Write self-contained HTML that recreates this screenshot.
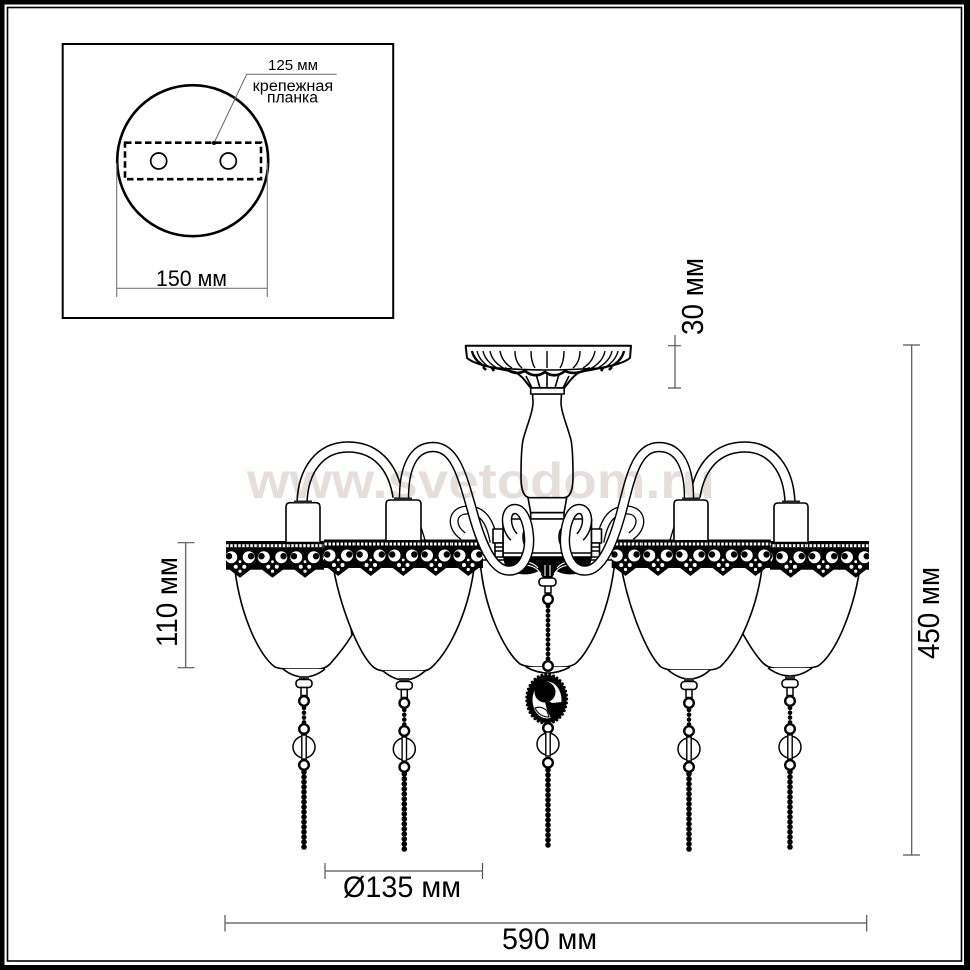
<!DOCTYPE html>
<html><head><meta charset="utf-8"><style>
html,body{margin:0;padding:0;background:#fff}
svg{display:block}
text{font-family:"Liberation Sans","Noto Sans CJK SC",sans-serif;fill:#000}
</style></head><body>
<svg width="970" height="970" viewBox="0 0 970 970" xmlns="http://www.w3.org/2000/svg">
<defs>
<g id="cell">
  <rect x="-0.3" width="33.1" height="28" fill="#000"/>
  <path d="M2,25 L16.25,36 L30.5,25Z" fill="#000"/>
  <rect y="2.5" width="32.5" height="3" fill="#fff"/>
  <g fill="#000"><rect x="1" y="2.5" width="1.5" height="3"/><rect x="5" y="2.5" width="1.5" height="3"/><rect x="9" y="2.5" width="1.5" height="3"/><rect x="13" y="2.5" width="1.5" height="3"/><rect x="17" y="2.5" width="1.5" height="3"/><rect x="21" y="2.5" width="1.5" height="3"/><rect x="25" y="2.5" width="1.5" height="3"/><rect x="29" y="2.5" width="1.5" height="3"/></g>
  <circle cx="7.5" cy="15.5" r="6" fill="#fff"/><circle cx="5.2" cy="14.5" r="3.2" fill="#000"/>
  <circle cx="25" cy="15.5" r="6" fill="#fff"/><circle cx="27.3" cy="14.5" r="3.2" fill="#000"/>
  <g fill="#fff"><circle cx="16.25" cy="20" r="1.4"/><circle cx="12" cy="25" r="2"/><circle cx="20.5" cy="25" r="2"/><circle cx="16.25" cy="29.5" r="1.6"/></g>
</g>
<clipPath id="b1"><rect x="226" y="541" width="98" height="38"/></clipPath>
<clipPath id="b2"><rect x="324" y="539" width="159" height="38"/></clipPath>
<clipPath id="b3"><rect x="611.7" y="539" width="159" height="38"/></clipPath>
<clipPath id="b4"><rect x="770" y="541" width="99" height="38"/></clipPath>
<g id="pend" fill="#fff" stroke="#000">
  <rect x="-5" y="-1" width="10" height="3.5" fill="#333" stroke="none"/>
  <rect x="-8" y="2.5" width="16" height="8" rx="3.5" stroke-width="1.6"/>
  <rect x="-3" y="10.5" width="6" height="8" stroke-width="1.5"/>
  <circle cx="0" cy="24" r="4.8" stroke-width="2.4"/>
  <line x1="0" y1="31" x2="0" y2="46" stroke-width="4.6" stroke-dasharray="0 4.8" stroke-linecap="round"/>
  <circle cx="0" cy="52" r="4.8" stroke-width="2.4"/>
  <circle cx="0" cy="70" r="11" stroke-width="1.5"/>
  <rect x="-2.2" y="58" width="4.4" height="24" stroke-width="1.4"/>
  <circle cx="0" cy="88" r="4.8" stroke-width="2.4"/>
  <line x1="0" y1="95" x2="0" y2="173.5" stroke-width="5.6" stroke-dasharray="0 5" stroke-linecap="round"/>
</g>
</defs>
<rect width="970" height="970" fill="#000"/>
<rect x="4.5" y="4.5" width="959.5" height="960.5" fill="#fff"/>
<rect x="7.5" y="7.5" width="954" height="953.5" fill="#fff" stroke="#000" stroke-width="1.6"/>

<!-- inset -->
<rect x="62.7" y="44" width="330.5" height="274" fill="none" stroke="#000" stroke-width="2"/>
<circle cx="192.7" cy="160.7" r="75.5" fill="none" stroke="#000" stroke-width="2.6"/>
<rect x="125" y="142.7" width="136" height="36.5" fill="none" stroke="#000" stroke-width="2.6" stroke-dasharray="6.5 3.5"/>
<circle cx="158.7" cy="161" r="8" fill="none" stroke="#000" stroke-width="1.7"/>
<circle cx="228.3" cy="161" r="8" fill="none" stroke="#000" stroke-width="1.7"/>
<path d="M214,143 L246.7,74.3 H336.7" fill="none" stroke="#666" stroke-width="1"/>
<circle cx="214" cy="143" r="2" fill="#000"/>
<text x="268" y="70" font-size="14.5" textLength="50" lengthAdjust="spacingAndGlyphs">125 мм</text>
<text x="252.7" y="91" font-size="15.5" textLength="80.5" lengthAdjust="spacingAndGlyphs">крепежная</text>
<text x="267" y="102.7" font-size="15.5" textLength="51" lengthAdjust="spacingAndGlyphs">планка</text>
<text x="156" y="286" font-size="22" textLength="71" lengthAdjust="spacingAndGlyphs">150 мм</text>
<path d="M116.7,163 V297 M267.3,163 V297 M116.7,288.3 H267.3" fill="none" stroke="#777" stroke-width="1.1"/>

<!-- dimensions -->
<g fill="none" stroke="#555" stroke-width="1.2">
  <path d="M675,335 V388 M668,345.7 H681 M668,388 H681"/>
  <path d="M911.7,345 V855 M903,345 H920 M903,855 H920"/>
  <path d="M185.7,542.7 V667.7 M177.5,542.7 H194.5 M177.5,667.7 H194.5"/>
  <path d="M325,871 H482.5 M325,863 V879 M482.5,863 V879"/>
  <path d="M225,923 H866.7 M225,915 V931.5 M866.7,915 V931.5"/>
</g>
<text transform="translate(703,335) rotate(-90)" font-size="31" textLength="77" lengthAdjust="spacingAndGlyphs">30 мм</text>
<text transform="translate(939,659) rotate(-90)" font-size="31" textLength="92" lengthAdjust="spacingAndGlyphs">450 мм</text>
<text transform="translate(177,647) rotate(-90)" font-size="30" textLength="90" lengthAdjust="spacingAndGlyphs">110 мм</text>
<text x="343" y="897" font-size="30" textLength="118" lengthAdjust="spacingAndGlyphs">Ø135 мм</text>
<text x="502" y="949" font-size="30" textLength="95" lengthAdjust="spacingAndGlyphs">590 мм</text>

<!-- shades -->
<g fill="#fff" stroke="#000" stroke-width="1.6" stroke-linejoin="round">
  <path d="M234,560 C238,610 258,655 275,667 Q280,669 288,669 H318 Q325,669 330,664 C338,655 346,645 352,635 L340,560Z"/>
  <path d="M283,669 Q293,677 304,677 Q315,677 325,669" />
  <path d="M861,560 C855,610 835,655 818,666 Q813,668 805,668 H775 Q768,668 763,663 C755,655 748,643 741.7,631.7 L760,560Z"/>
  <path d="M768,668 Q779,676 790,676 Q801,676 812,668"/>
  <path d="M480,560 C484,610 505,652 520,664 Q526,667 534,667 H562 Q570,667 575,664 C590,652 610,610 615,560Z"/>
  <path d="M526,667 Q537,673 548,673 Q559,673 570,667"/>
  <path d="M332,560 C340,610 360,655 373.3,667 Q378,671 386,671 H422 Q428,671 432,667 C450,650 470,610 475,560Z"/>
  <path d="M383,671 Q394,680 404,680 Q415,680 425,671"/>
  <path d="M620,560 C628,610 648,655 661,667 Q666,670 674,670 H708 Q715,670 720,667 C738,650 758,610 763,560Z"/>
  <path d="M668,670 Q679,679 689,679 Q700,679 710,670"/>
</g>

<!-- pendants -->
<use href="#pend" x="304" y="677"/>
<use href="#pend" x="404.3" y="679"/>
<use href="#pend" x="689" y="679"/>
<use href="#pend" x="790" y="677"/>
<g fill="#fff" stroke="#000">
  <rect x="545" y="585" width="6" height="8" stroke-width="1.5"/>
  <circle cx="548" cy="599.3" r="4.8" stroke-width="2.4"/>
  <line x1="548" y1="606" x2="548" y2="660" stroke-width="4.8" stroke-dasharray="0 4.8" stroke-linecap="round"/>
  <circle cx="548" cy="666" r="4.8" stroke-width="2.4"/>
  <circle cx="548" cy="728" r="4.8" stroke-width="2.4"/>
  <circle cx="548" cy="744" r="11" stroke-width="1.5"/>
  <rect x="545.8" y="732" width="4.4" height="24" stroke-width="1.4"/>
  <circle cx="548" cy="762.7" r="4.8" stroke-width="2.4"/>
  <line x1="548" y1="770" x2="548" y2="848" stroke-width="5.6" stroke-dasharray="0 5" stroke-linecap="round"/>
</g>
<!-- medallion -->
<ellipse cx="546.7" cy="699" rx="20" ry="24" fill="#000"/>
<ellipse cx="546.7" cy="699" rx="20" ry="24.5" fill="none" stroke="#000" stroke-width="3" stroke-dasharray="0 4" stroke-linecap="round"/>
<ellipse cx="547" cy="700" rx="14.5" ry="18.5" fill="#fff"/>
<circle cx="545" cy="692" r="10.5" fill="#000"/>
<path d="M544,698 L552,703 L562,702 C563,710 558,716 551,718.5 L547,710Z" fill="#000"/>
<path d="M535,708 C540,706 544,708 547,711 L549,717 C543,717 538,714 535,708Z" fill="#fff" stroke="#000" stroke-width="1"/>

<!-- back curls -->
<g fill="none" stroke-linecap="butt">
  <path d="M463,536 C450,527 451,510 468,510 C482,510 490,520 494,542" stroke="#000" stroke-width="9"/>
  <path d="M463,536 C450,527 451,510 468,510 C482,510 490,520 494,542" stroke="#fff" stroke-width="6.4"/>
  <path d="M631,536 C644,527 643,510 626,510 C612,510 604,520 600,542" stroke="#000" stroke-width="9"/>
  <path d="M631,536 C644,527 643,510 626,510 C612,510 604,520 600,542" stroke="#fff" stroke-width="6.4"/>
</g>

<!-- body -->
<g fill="#fff" stroke="#000" stroke-width="1.6" stroke-linejoin="round">
  <path d="M528,497.7 L530.7,512.7 H564 L566.7,497.7Z"/>
  <path d="M530.7,512.7 V519 H564 V512.7Z"/>
  <rect x="503" y="519" width="88.5" height="38"/>
  <rect x="493" y="529" width="10" height="14"/><rect x="591.5" y="529" width="10" height="14"/>
  <path d="M495,543 h8 v14 h-8Z"/><path d="M591.5,543 h8 v14 h-8Z"/>
  <path d="M495,547 h8 M495,551 h8 M591.5,547 h8 M591.5,551 h8"/>
  <ellipse cx="528" cy="537" rx="5" ry="10"/><ellipse cx="564" cy="537" rx="5" ry="10"/>
  <path d="M503,553 H591.5"/>
  <path d="M532.5,394 L533,402 C533,412 527,425 523,440 C521,450 521,465 521,477 C521,490 524,497.7 530,497.7 H564 C570,497.7 573,490 573,477 C573,465 573,450 571,440 C567,425 561,412 561,402 L561.5,394Z"/>
  <!-- plate -->
  <path d="M465.7,345.7 H631 L630,358 C622,365 600,368 580,372 C572,376 568,384 564,388 H531 C527,384 523,376 515,372 C495,368 475,365 467,358Z" stroke-width="2"/>
  <rect x="530.7" y="388" width="33.5" height="6" stroke-width="1.6"/>
  <path d="M490,367.5 C510,369 530,370 547,370 C565,370 585,369 606,367.5" fill="none"/>
</g>
<g fill="none" stroke="#000" stroke-width="1.4">
  <path d="M472,351 Q474,360 484,366 M477,351 Q479,360 489,367 M483,351 Q485,361 497,368 M490,351 Q492,362 505,369 M500,351 Q502,362 512,368 M515,351 Q515,362 522,368 M531,351 Q531,362 535,368 M547,351 V368 M564,351 Q564,362 560,368 M580,351 Q580,362 573,368 M595,351 Q593,362 583,368 M605,351 Q603,362 590,369 M612,351 Q610,361 598,368 M618,351 Q616,360 606,367 M624,351 Q622,360 612,366"/>
  <path d="M472,351 Q474,360 484,366 M624,351 Q622,360 612,366" stroke-width="2.4"/>
  <path d="M505,368 Q515,376 525,371 Q535,379 545,372 Q555,379 565,371 Q575,376 590,368" stroke-width="2.6"/>
  <path d="M532,388 L526,376 M540,388 L536,374 M547,388 V374 M555,388 L559,374 M563,388 L569,376" stroke-width="1.6"/>
  <path d="M483,367 l3,3 M492,368 l2,3 M603,368 l-2,3 M612,367 l-3,3" stroke-width="2.6"/>
</g>

<!-- bottom ornament -->
<path d="M503,557 H592 L590,566 C584,575 568,577 556,571 L552,578 H543 L539,571 C527,577 511,575 505,566Z" fill="#000"/>
<g fill="none" stroke="#fff" stroke-width="1.1"><path d="M541,574 C536,566 528,564 520,566 M554,574 C559,566 567,564 575,566 M545,576 V565 M550,576 V565 M538,568 C533,562 526,561 518,562 M557,568 C562,562 569,561 577,562"/></g>
<rect x="539" y="578" width="17" height="8" rx="3.5" fill="#fff" stroke="#000" stroke-width="1.6"/>

<!-- lace -->
<g clip-path="url(#b1)"><use href="#cell" x="223.75" y="541.7"/><use href="#cell" x="256.25" y="541.7"/><use href="#cell" x="288.75" y="541.7"/><use href="#cell" x="321.25" y="541.7"/></g>
<g clip-path="url(#b2)"><use href="#cell" x="322" y="540"/><use href="#cell" x="354.5" y="540"/><use href="#cell" x="387" y="540"/><use href="#cell" x="419.5" y="540"/><use href="#cell" x="452" y="540"/><use href="#cell" x="484.5" y="540"/></g>
<g clip-path="url(#b4)"><use href="#cell" x="741.95" y="541.7"/><use href="#cell" x="774.45" y="541.7"/><use href="#cell" x="806.95" y="541.7"/><use href="#cell" x="839.45" y="541.7"/></g>
<g clip-path="url(#b3)"><use href="#cell" x="609.25" y="540"/><use href="#cell" x="641.75" y="540"/><use href="#cell" x="674.25" y="540"/><use href="#cell" x="706.75" y="540"/><use href="#cell" x="739.25" y="540"/></g>
<rect x="226" y="541" width="98" height="1.7" fill="#000"/>
<rect x="324" y="539.5" width="159" height="1.7" fill="#000"/>
<rect x="611.7" y="539.5" width="159" height="1.7" fill="#000"/>
<rect x="770" y="541" width="99" height="1.7" fill="#000"/>

<!-- sockets -->
<g fill="#fff" stroke="#000" stroke-width="1.6">
  <path d="M286,541.7 V507 Q286,502.7 290,502.7 H316 Q320,502.7 320,507 V541.7"/>
  <path d="M386,540 V504 Q386,500 390,500 H417 Q421,500 421,504 V540"/>
  <path d="M674,540 V504 Q674,500 678,500 H704 Q708,500 708,504 V540"/>
  <path d="M774,541.7 V507 Q774,503 778,503 H804 Q808,503 808,507 V541.7"/>
</g>
<g fill="none" stroke="#000" stroke-width="1.3"><path d="M421,527 L425,540 M674,527 L670,540"/></g>

<!-- arms -->
<g fill="none" stroke-linecap="butt" stroke-linejoin="round">
  <path d="M302,503 C303,470 320,447 348,447 C375,447 393,465 398,497" stroke="#000" stroke-width="11.5"/>
  <path d="M302,503 C303,470 320,447 348,447 C375,447 393,465 398,497" stroke="#fff" stroke-width="8.4"/>
  <path d="M404,498 C404,470 412,447 433,447 C455,447 462,475 472,510 C480,540 492,572 510,570.5 C524,570 530,552 529,537 C528,520 522,509 515,509 C505,509 504,527 514,537" stroke="#000" stroke-width="10.5"/>
  <path d="M404,498 C404,470 412,447 433,447 C455,447 462,475 472,510 C480,540 492,572 510,570.5 C524,570 530,552 529,537 C528,520 522,509 515,509 C505,509 504,527 514,537" stroke="#fff" stroke-width="7.6"/>
  <path d="M790,503 C789,470 772,447 745,447 C718,447 700,465 695,497" stroke="#000" stroke-width="11.5"/>
  <path d="M790,503 C789,470 772,447 745,447 C718,447 700,465 695,497" stroke="#fff" stroke-width="8.4"/>
  <path d="M689,498 C689,470 681,447 659,447 C637,447 631,475 622,510 C614,540 602,572 584,570.5 C570,570 564,552 565,537 C566,520 572,509 579,509 C589,509 590,527 580,537" stroke="#000" stroke-width="10.5"/>
  <path d="M689,498 C689,470 681,447 659,447 C637,447 631,475 622,510 C614,540 602,572 584,570.5 C570,570 564,552 565,537 C566,520 572,509 579,509 C589,509 590,527 580,537" stroke="#fff" stroke-width="7.6"/>
</g>
<g fill="#222">
  <rect x="294" y="500.5" width="18" height="2.5"/><rect x="394" y="497.5" width="18" height="2.5"/>
  <rect x="682" y="497.5" width="18" height="2.5"/><rect x="782" y="500.5" width="18" height="2.5"/>
</g>

<text x="247" y="498" font-size="50" font-weight="bold" textLength="468" lengthAdjust="spacingAndGlyphs" style="fill:#e6dedb;mix-blend-mode:multiply">www.svetodom.ru</text>
</svg>
</body></html>
